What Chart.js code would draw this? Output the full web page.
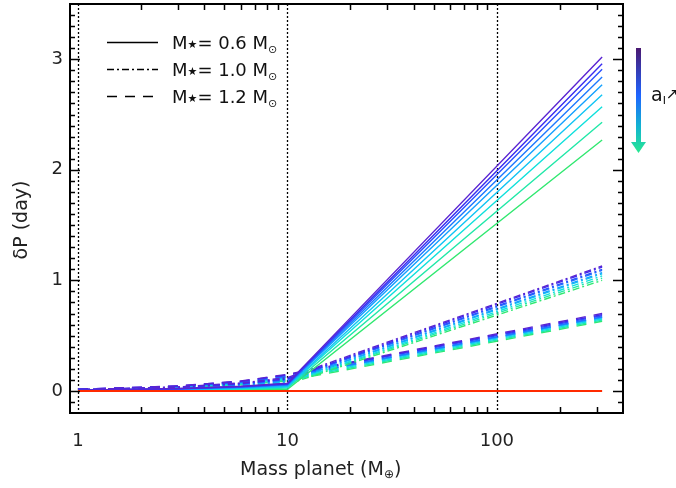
<!DOCTYPE html>
<html>
<head>
<meta charset="utf-8">
<script src="https://cdn.jsdelivr.net/npm/chart.js@4.4.1/dist/chart.umd.min.js"></script>
<style>
  body { margin: 0; background: #fff; }
  #wrap { width: 676px; height: 488px; position: relative; }
</style>
</head>
<body>
<div id="wrap"><canvas id="dpChart"></canvas></div>
<script>
// planet masses (Earth masses) where dP was computed
const masses = [1, 3, 6, 10, 318];

// dP (day), one row per a_i, from purple (small a_i) to green
const dpStar06 = [
  [0.007, 0.021, 0.042, 0.070, 3.02],
  [0.007, 0.020, 0.039, 0.065, 2.96],
  [0.006, 0.018, 0.036, 0.060, 2.91],
  [0.006, 0.017, 0.033, 0.055, 2.84],
  [0.005, 0.015, 0.030, 0.050, 2.77],
  [0.004, 0.012, 0.024, 0.040, 2.68],
  [0.004, 0.011, 0.021, 0.035, 2.57],
  [0.003, 0.008, 0.015, 0.025, 2.43],
  [0.002, 0.005, 0.009, 0.015, 2.27]
];
const dpStar10 = [
  [0.012, 0.036, 0.072, 0.120, 1.13],
  [0.011, 0.033, 0.066, 0.110, 1.12],
  [0.011, 0.032, 0.063, 0.105, 1.10],
  [0.010, 0.030, 0.060, 0.100, 1.09],
  [0.009, 0.027, 0.054, 0.090, 1.07],
  [0.009, 0.026, 0.051, 0.085, 1.06],
  [0.008, 0.023, 0.045, 0.075, 1.04],
  [0.007, 0.021, 0.042, 0.070, 1.02],
  [0.006, 0.018, 0.036, 0.060, 1.00]
];
const dpStar12 = [
  [0.015, 0.045, 0.090, 0.150, 0.700],
  [0.015, 0.044, 0.087, 0.145, 0.690],
  [0.014, 0.042, 0.084, 0.140, 0.680],
  [0.013, 0.039, 0.078, 0.130, 0.670],
  [0.013, 0.038, 0.075, 0.125, 0.665],
  [0.012, 0.036, 0.072, 0.120, 0.660],
  [0.011, 0.033, 0.066, 0.110, 0.650],
  [0.010, 0.030, 0.060, 0.100, 0.640],
  [0.009, 0.027, 0.054, 0.090, 0.630]
];
const dpZero = [0, 0, 0, 0, 0];

const lineColors = ['#5a24d2', '#3a2cf0', '#2a50ff', '#1e78ff', '#14a0ff',
                    '#10c4f4', '#10e0dc', '#20e8a8', '#30e870'];
const xTickLabels = [1, 10, 100];
const yTickLabels = [0, 1, 2, 3];
const refMasses = [1, 10, 100];
const starMasses = ['0.6', '1.0', '1.2'];

const FONT = '"DejaVu Sans", Verdana, sans-serif';
const dashSolid = [];
const dashDot = [7, 3, 2, 3];
const dashLong = [10, 8];

function makeSets(rows, dash) {
  return rows.map((row, i) => ({
    data: row.map((v, j) => ({ x: masses[j], y: v })),
    borderColor: lineColors[i],
    borderWidth: 1.4,
    borderDash: dash,
    pointRadius: 0,
    fill: false,
    tension: 0
  }));
}

const datasets = [{
  data: dpZero.map((v, j) => ({ x: masses[j], y: v })),
  borderColor: '#ff2a00',
  borderWidth: 2,
  pointRadius: 0,
  fill: false
}].concat(makeSets(dpStar06, dashSolid), makeSets(dpStar10, dashDot), makeSets(dpStar12, dashLong));

// text with a small lowered part, e.g. M + sun symbol
function drawPieces(ctx, pieces, x, y) {
  pieces.forEach(p => {
    ctx.font = p.size + 'px ' + FONT;
    ctx.fillText(p.text, x, y + (p.dy || 0));
    x += ctx.measureText(p.text).width;
  });
  return x;
}

// keep the plot box fixed, no extra room for half labels
function fixPadding(scale) {
  scale.paddingTop = 0;
  scale.paddingBottom = 0;
  scale.paddingLeft = 0;
  scale.paddingRight = 0;
}

const framePlugin = {
  id: 'frame',
  beforeDatasetsDraw(chart) {
    const { ctx, chartArea: a, scales: { x } } = chart;
    ctx.save();
    ctx.strokeStyle = '#000';
    ctx.lineWidth = 1.3;
    ctx.setLineDash([2, 2]);
    refMasses.forEach(m => {
      const px = Math.round(x.getPixelForValue(m)) + 0.5;
      ctx.beginPath();
      ctx.moveTo(px, a.top);
      ctx.lineTo(px, a.bottom);
      ctx.stroke();
    });
    ctx.restore();
  },
  afterDraw(chart) {
    const { ctx, chartArea: a, scales: { x, y } } = chart;
    ctx.save();
    ctx.strokeStyle = '#000';
    ctx.fillStyle = '#000';

    // inward ticks on all four sides
    ctx.lineWidth = 1.5;
    ctx.beginPath();
    [1, 10, 100].forEach(dec => {
      for (let k = 2; k <= 9; k++) {
        const v = k * dec;
        if (v >= x.max) continue;
        const px = Math.round(x.getPixelForValue(v)) + 0.5;
        ctx.moveTo(px, a.bottom); ctx.lineTo(px, a.bottom - 6);
        ctx.moveTo(px, a.top); ctx.lineTo(px, a.top + 6);
      }
    });
    for (let i = -1; i <= 34; i++) {
      const py = Math.round(y.getPixelForValue(i / 10)) + 0.5;
      const len = i % 10 === 0 ? 10 : 5;
      ctx.moveTo(a.left, py); ctx.lineTo(a.left + len, py);
      ctx.moveTo(a.right, py); ctx.lineTo(a.right - len, py);
    }
    ctx.stroke();

    // frame
    ctx.lineWidth = 2;
    ctx.strokeRect(a.left, a.top, a.right - a.left, a.bottom - a.top);

    // legend
    const rowY = [42, 69, 96];
    const dashes = [dashSolid, dashDot, dashLong];
    ctx.fillStyle = '#111';
    ctx.textBaseline = 'alphabetic';
    rowY.forEach((ry, i) => {
      ctx.lineWidth = 1.5;
      ctx.setLineDash(dashes[i]);
      ctx.beginPath();
      ctx.moveTo(107, ry + 0.5);
      ctx.lineTo(158, ry + 0.5);
      ctx.stroke();
      ctx.setLineDash([]);
      drawPieces(ctx, [
        { text: 'M', size: 18 },
        { text: '\u2605', size: 11, dy: -1 },
        { text: '= ' + starMasses[i] + ' M', size: 18 },
        { text: '\u2299', size: 11, dy: 4 }
      ], 172, ry + 7);
    });

    // axis titles
    ctx.fillStyle = '#222';
    drawPieces(ctx, [
      { text: 'Mass planet (M', size: 19 },
      { text: '\u2295', size: 12, dy: 3 },
      { text: ')', size: 19 }
    ], 240, 475);
    ctx.save();
    ctx.translate(27, 220);
    ctx.rotate(-Math.PI / 2);
    ctx.font = '19px ' + FONT;
    ctx.textAlign = 'center';
    ctx.fillText('\u03b4P (day)', 0, 0);
    ctx.restore();

    // a_i direction arrow
    const grad = ctx.createLinearGradient(0, 48, 0, 153);
    grad.addColorStop(0, '#4a1870');
    grad.addColorStop(0.45, '#1e64ff');
    grad.addColorStop(0.75, '#12b4d0');
    grad.addColorStop(1, '#28e890');
    ctx.fillStyle = grad;
    ctx.fillRect(636, 48, 5, 95);
    ctx.beginPath();
    ctx.moveTo(631, 142);
    ctx.lineTo(646, 142);
    ctx.lineTo(638.5, 153);
    ctx.closePath();
    ctx.fill();
    ctx.fillStyle = '#111';
    drawPieces(ctx, [
      { text: 'a', size: 19 },
      { text: 'I', size: 11, dy: 3 },
      { text: '\u2197', size: 15, dy: -2 }
    ], 651, 101);
    ctx.restore();
  }
};

const ctx = document.getElementById('dpChart').getContext('2d');
const dpChart = new Chart(ctx, {
  type: 'line',
  data: { datasets: datasets },
  options: {
    responsive: true,
    maintainAspectRatio: false,
    animation: false,
    layout: { padding: { top: 4, right: 53, left: 0, bottom: 0 } },
    plugins: { legend: { display: false }, tooltip: { enabled: false } },
    scales: {
      x: {
        type: 'logarithmic',
        min: 0.916,
        max: 400,
        grid: { display: false },
        border: { display: false },
        afterBuildTicks: scale => { scale.ticks = xTickLabels.map(v => ({ value: v })); },
        afterFit: scale => { scale.height = 75; fixPadding(scale); },
        ticks: {
          autoSkip: false,
          maxRotation: 0,
          padding: 10,
          color: '#222',
          font: { family: FONT, size: 18 },
          callback: v => String(v)
        }
      },
      y: {
        type: 'linear',
        min: -0.2,
        max: 3.5,
        grid: { display: false },
        border: { display: false },
        afterBuildTicks: scale => { scale.ticks = yTickLabels.map(v => ({ value: v })); },
        afterFit: scale => { scale.width = 70; fixPadding(scale); },
        ticks: {
          autoSkip: false,
          padding: -1,
          color: '#222',
          font: { family: FONT, size: 18 },
          callback: v => String(v)
        }
      }
    }
  },
  plugins: [framePlugin]
});
</script>
</body>
</html>
